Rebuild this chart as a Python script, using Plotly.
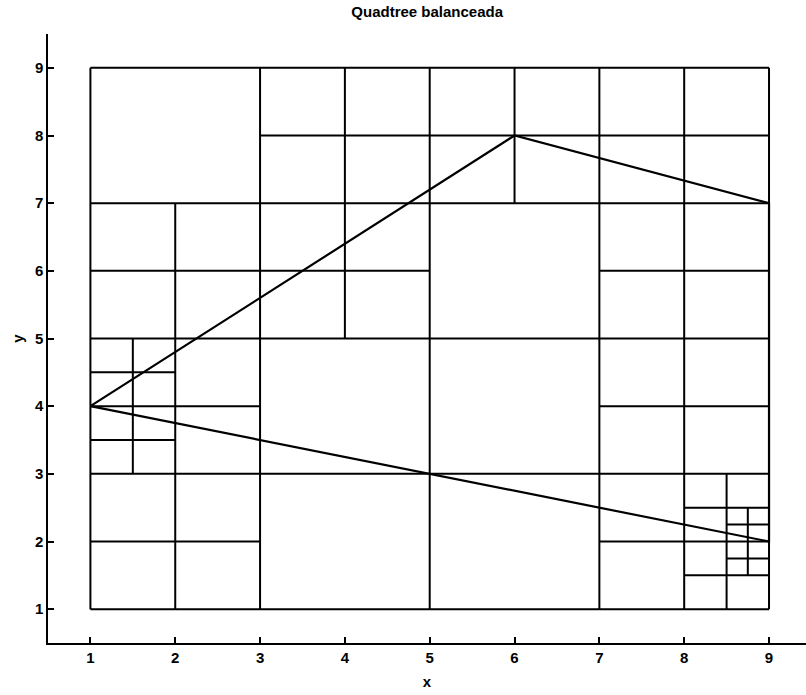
import plotly.graph_objects as go

# Quadtree domain and segments (balanced quadtree)
# horizontal segments: (y, x_start, x_end)
h_segments = [
    (9, 1, 9), (8, 3, 9), (7, 1, 9), (6, 1, 5), (6, 7, 9), (5, 1, 9),
    (4.5, 1, 2), (4, 1, 3), (4, 7, 9), (3.5, 1, 2), (3, 1, 9),
    (2.5, 8, 9), (2.25, 8.5, 9), (2, 1, 3), (2, 7, 9), (1.75, 8.5, 9),
    (1.5, 8, 9), (1, 1, 9),
]
# vertical segments: (x, y_start, y_end)
v_segments = [
    (1, 1, 9), (1.5, 3, 5), (2, 1, 7), (3, 1, 9), (4, 5, 9), (5, 1, 9),
    (6, 7, 9), (7, 1, 9), (8, 1, 9), (8.5, 1, 3), (8.75, 1.5, 2.5), (9, 1, 9),
]
# polygon vertices
poly_x = [1, 6, 9, 9, 1]
poly_y = [4, 8, 7, 2, 4]

tick_vals = [1, 2, 3, 4, 5, 6, 7, 8, 9]

xs, ys = [], []
for y, x0, x1 in h_segments:
    xs += [x0, x1, None]
    ys += [y, y, None]
for x, y0, y1 in v_segments:
    xs += [x, x, None]
    ys += [y0, y1, None]

fig = go.Figure()
fig.add_trace(go.Scatter(x=xs, y=ys, mode="lines",
                         line=dict(color="black", width=2),
                         hoverinfo="skip", showlegend=False))
fig.add_trace(go.Scatter(x=poly_x, y=poly_y, mode="lines",
                         line=dict(color="black", width=2.2),
                         hoverinfo="skip", showlegend=False))

FONT = "Liberation Sans, Arial"
axis_common = dict(
    tickvals=tick_vals, ticktext=[str(v) for v in tick_vals],
    showgrid=False, zeroline=False, showline=True, linecolor="black",
    linewidth=1.5, ticks="inside", ticklen=6, tickcolor="black", tickwidth=1.5,
    mirror=False,
    tickfont=dict(family=FONT, size=15, color="black", weight="bold"),
)

fig.update_layout(
    width=806, height=695,
    margin=dict(l=48, r=0, t=34, b=52),
    paper_bgcolor="white", plot_bgcolor="white",
    title=dict(text="Quadtree balanceada", x=0.53, xanchor="center", y=0.99, yanchor="top",
               font=dict(family=FONT, size=15, color="black", weight="bold")),
    xaxis=dict(range=[0.5, 9.436],
               title=dict(text="x", standoff=12,
                          font=dict(family=FONT, size=15, color="black", weight="bold")),
               **axis_common),
    yaxis=dict(range=[0.5, 9.5],
               title=dict(text="y", standoff=8,
                          font=dict(family=FONT, size=15, color="black", weight="bold")),
               **axis_common),
)

fig.write_html("out.html")
